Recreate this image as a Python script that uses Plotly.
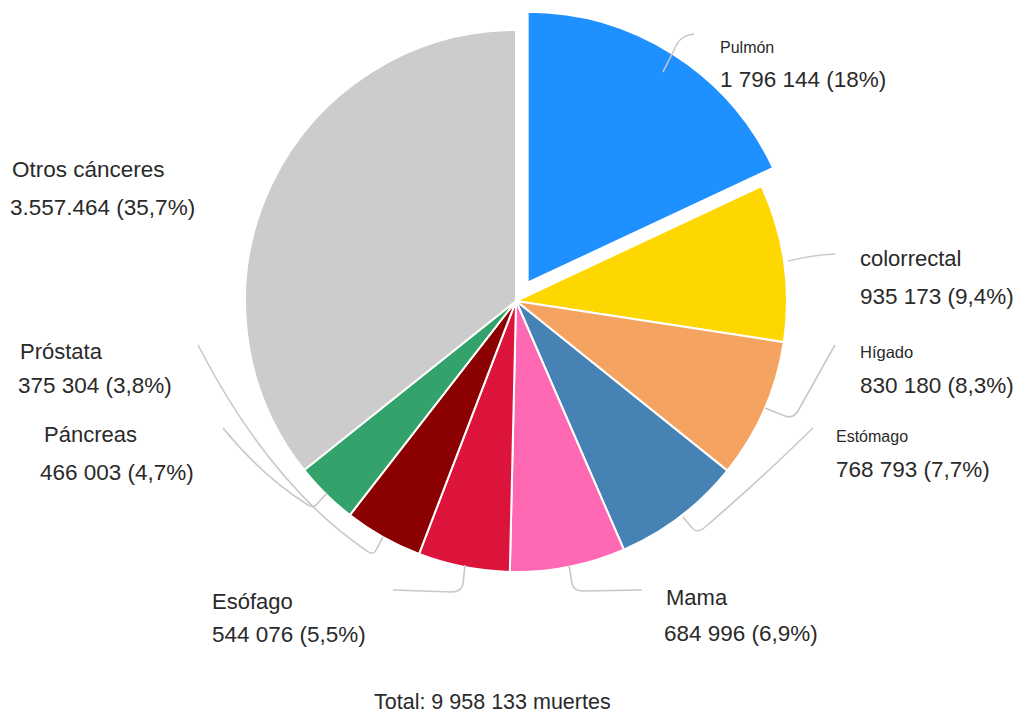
import plotly.graph_objects as go

W, H = 1021, 715

# Cancer deaths by site (worldwide)
sites = ["Pulmón", "colorrectal", "Hígado", "Estómago", "Mama",
         "Esófago", "Páncreas", "Próstata", "Otros cánceres"]
deaths = [1796144, 935173, 830180, 768793, 684996,
          544076, 466003, 375304, 3557464]
value_text = ["1 796 144 (18%)", "935 173 (9,4%)", "830 180 (8,3%)",
              "768 793 (7,7%)", "684 996 (6,9%)", "544 076 (5,5%)",
              "466 003 (4,7%)", "375 304 (3,8%)", "3.557.464 (35,7%)"]
colors = ["#1E90FF", "#FFD700", "#F4A460", "#4682B4", "#FF69B4",
          "#DC143C", "#8B0000", "#33A36B", "#CCCCCC"]
pulls = [0.08, 0, 0, 0, 0, 0, 0, 0, 0]
total_text = "Total: 9 958 133 muertes"


def px(x, y):
    return x / W, 1 - y / H


def path(cmds):
    out = []
    for c in cmds:
        op, pts = c[0], c[1:]
        coords = " ".join(f"{x / W:.5f},{1 - y / H:.5f}" for x, y in pts)
        out.append(f"{op}{coords}")
    return " ".join(out)


fig = go.Figure(go.Pie(
    labels=sites,
    values=deaths,
    sort=False,
    direction="clockwise",
    rotation=0,
    pull=pulls,
    marker=dict(colors=colors, line=dict(color="white", width=2)),
    textinfo="none",
    hoverinfo="label+value+percent",
    domain=dict(x=[0.2187, 0.7921], y=[0.1697, 0.9884]),
    showlegend=False,
))

# label placement: (name x, name y, value x, value y, name font size)
label_pos = [
    (718, 47, 718, 79, 16),
    (858, 259, 858, 296, 22),
    (858, 352, 858, 385, 16.5),
    (834, 436, 834, 470, 16),
    (664, 597, 662, 633, 22),
    (210, 601, 210, 634, 22),
    (42, 434, 38, 472, 22),
    (18, 351, 16, 386, 22),
    (10, 170, 8, 207, 22.5),
]

text_color = "#2a2a2a"
font_family = "Liberation Sans, Arial, sans-serif"
annotations = []
for name, val, (nx, ny, vx, vy, fs) in zip(sites, value_text, label_pos):
    ax, ay = px(nx, ny)
    annotations.append(dict(x=ax, y=ay, xref="paper", yref="paper", text=name,
                            showarrow=False, xanchor="left", yanchor="middle",
                            font=dict(family=font_family, size=fs, color=text_color)))
    bx, by = px(vx, vy)
    annotations.append(dict(x=bx, y=by, xref="paper", yref="paper", text=val,
                            showarrow=False, xanchor="left", yanchor="middle",
                            font=dict(family=font_family, size=22.5, color=text_color)))

tx, ty = px(492, 702)
annotations.append(dict(x=tx, y=ty, xref="paper", yref="paper", text=total_text,
                        showarrow=False, xanchor="center", yanchor="middle",
                        font=dict(family=font_family, size=21.5, color=text_color)))

# leader lines from slices to their labels
leaders = [
    [("M", (663, 72)), ("L", (677, 44)), ("Q", (682, 35), (694, 34))],
    [("M", (788, 261)), ("Q", (812, 255), (835, 254))],
    [("M", (835, 345)), ("Q", (818, 375), (798, 411)), ("Q", (793, 419), (785, 416)), ("L", (765, 408))],
    [("M", (813, 428)), ("Q", (760, 480), (704, 528)), ("Q", (698, 533), (693, 529)), ("L", (683, 517))],
    [("M", (569, 565)), ("L", (572, 584)), ("Q", (574, 591), (583, 591)), ("L", (642, 590))],
    [("M", (465, 565)), ("L", (463, 584)), ("Q", (461, 592), (452, 592)), ("L", (393, 590))],
    [("M", (198, 345)), ("Q", (270, 485), (367, 551)), ("Q", (373, 556), (376, 550)), ("L", (383, 537))],
    [("M", (223, 428)), ("Q", (262, 476), (308, 505)), ("Q", (313, 509), (318, 503)), ("L", (327, 493))],
]
shapes = [dict(type="path", xref="paper", yref="paper", path=path(seg),
               line=dict(color="#c8c8c8", width=1.6), layer="above")
          for seg in leaders]

fig.update_layout(
    width=W, height=H,
    margin=dict(l=0, r=0, t=0, b=0),
    paper_bgcolor="white",
    plot_bgcolor="white",
    annotations=annotations,
    shapes=shapes,
)

fig.write_html("out.html")
